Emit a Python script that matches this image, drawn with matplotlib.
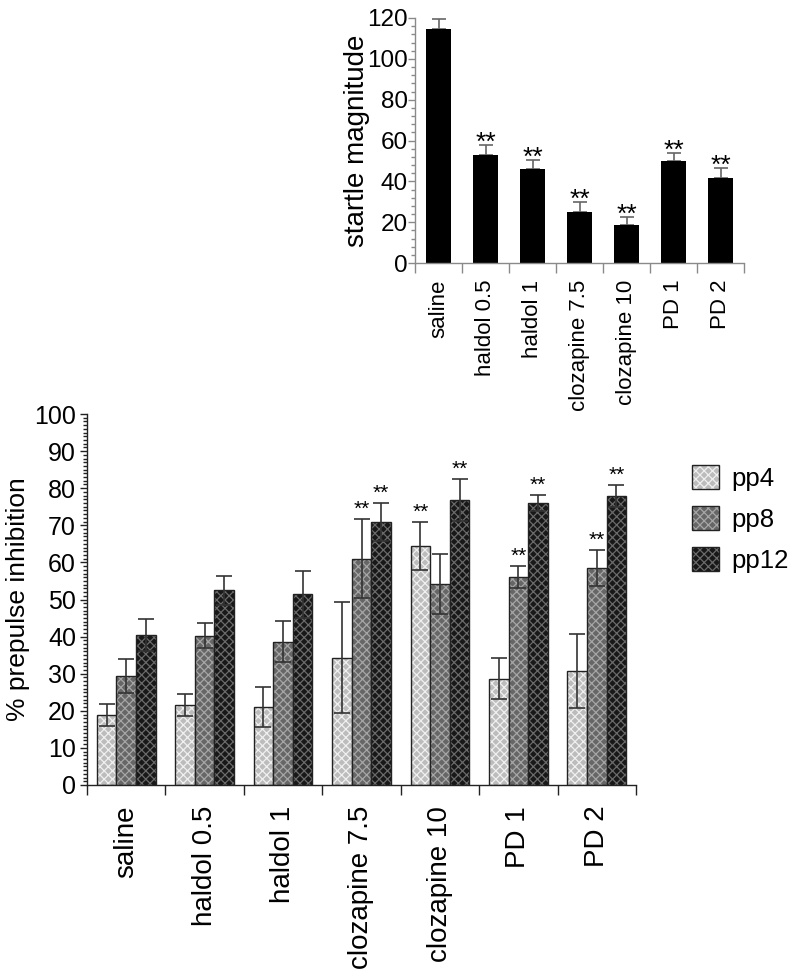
import numpy as np
import matplotlib.pyplot as plt
from matplotlib.patches import Patch
from matplotlib.ticker import MultipleLocator, FixedLocator

plt.rcParams["font.family"] = ["Liberation Sans", "DejaVu Sans"]
plt.rcParams["hatch.linewidth"] = 0.9

groups = ["saline", "haldol 0.5", "haldol 1", "clozapine 7.5", "clozapine 10", "PD 1", "PD 2"]

# top panel: startle magnitude (mean + SEM)
startle = [114.5, 52.7, 45.9, 24.8, 18.4, 50.1, 41.5]
startle_err = [5.0, 5.1, 4.5, 4.9, 4.1, 3.9, 5.2]
startle_sig = ["", "**", "**", "**", "**", "**", "**"]

# bottom panel: % prepulse inhibition
series = ["pp4", "pp8", "pp12"]
pp4 = [18.9, 21.5, 21.0, 34.3, 64.4, 28.7, 30.7]
pp4_err = [3.0, 3.0, 5.3, 14.9, 6.4, 5.5, 9.9]
pp8 = [29.4, 40.2, 38.6, 61.0, 54.2, 56.0, 58.5]
pp8_err = [4.5, 3.4, 5.5, 10.6, 8.0, 3.0, 4.9]
pp12 = [40.4, 52.5, 51.4, 70.9, 76.8, 76.0, 77.9]
pp12_err = [4.3, 3.9, 6.3, 5.1, 5.7, 2.2, 3.0]
pp4_sig = ["", "", "", "", "**", "", ""]
pp8_sig = ["", "", "", "**", "", "**", "**"]
pp12_sig = ["", "", "", "**", "**", "**", "**"]

# face colour, hatch colour
styles = {
    "pp4": ("#bcbcbc", "#f0f0f0"),
    "pp8": ("#666666", "#a6a6a6"),
    "pp12": ("#181818", "#6a6a6a"),
}

x = np.arange(len(groups))
fig = plt.figure(figsize=(8, 9.77), dpi=100)


def style_axis(ax, spine_color):
    ax.spines["top"].set_visible(False)
    ax.spines["right"].set_visible(False)
    for s in ["left", "bottom"]:
        ax.spines[s].set_color(spine_color)
        ax.spines[s].set_linewidth(1.0)
    ax.set_xlim(-0.5, len(groups) - 0.5)
    ax.xaxis.set_major_locator(FixedLocator(x))
    ax.xaxis.set_minor_locator(FixedLocator(np.arange(len(groups) + 1) - 0.5))
    ax.tick_params(axis="x", which="major", length=0)
    ax.tick_params(axis="x", which="minor", length=7, color=spine_color, width=1)
    ax.tick_params(axis="y", which="major", length=5, color=spine_color, width=1)
    ax.tick_params(axis="y", which="minor", length=3, color=spine_color, width=1)


# ---- top chart
ax1 = fig.add_axes([415 / 800, 1 - 263 / 977, 329 / 800, 245 / 977])
ax1.bar(x, startle, 0.53, color="black", zorder=2)
ax1.errorbar(x, startle, yerr=[np.zeros(len(x)), startle_err], fmt="none",
             ecolor="#666666", elinewidth=1.2, capsize=5, capthick=1.2, zorder=1)
for xi, v, e, s in zip(x, startle, startle_err, startle_sig):
    if s:
        ax1.annotate(s, (xi, v + e), xytext=(0, -3.5), textcoords="offset points",
                     ha="center", va="baseline", fontsize=19)
ax1.set_ylim(0, 120)
ax1.yaxis.set_major_locator(MultipleLocator(20))
ax1.yaxis.set_minor_locator(MultipleLocator(4))
style_axis(ax1, "#8a8a8a")
ax1.set_xticklabels(groups, rotation=90, fontsize=16)
ax1.tick_params(axis="x", which="major", pad=12)
ax1.tick_params(axis="y", labelsize=17.5, pad=0)
ax1.set_ylabel("startle magnitude", fontsize=20, labelpad=-2)

# ---- bottom chart
ax2 = fig.add_axes([87 / 800, 1 - 785 / 977, 549 / 800, 371 / 977])
width = 0.25
all_vals = [pp4, pp8, pp12]
all_errs = [pp4_err, pp8_err, pp12_err]
all_sig = [pp4_sig, pp8_sig, pp12_sig]
handles = []
for i, name in enumerate(series):
    pos = x + (i - 1) * width
    face, hatchc = styles[name]
    vals = all_vals[i]
    ax2.bar(pos, vals, width, color=face, edgecolor=hatchc, hatch="xxxx", linewidth=0)
    ax2.bar(pos, vals, width, fill=False, edgecolor="#222222", linewidth=1)
    ax2.errorbar(pos, vals, yerr=all_errs[i], fmt="none", ecolor="#333333",
                 elinewidth=1.2, capsize=6, capthick=1.2)
    for p, v, e, s in zip(pos, vals, all_errs[i], all_sig[i]):
        if s:
            ax2.annotate(s, (p, v + e), xytext=(0, 3), textcoords="offset points",
                         ha="center", va="baseline", fontsize=15)
    handles.append((Patch(facecolor=face, edgecolor=hatchc, hatch="xxxx", linewidth=0),
                    Patch(fill=False, edgecolor="#222222", linewidth=1)))

ax2.set_ylim(0, 100)
ax2.yaxis.set_major_locator(MultipleLocator(10))
ax2.yaxis.set_minor_locator(MultipleLocator(1))
style_axis(ax2, "#222222")
ax2.set_xticklabels(groups, rotation=90, fontsize=20)
ax2.tick_params(axis="x", which="major", pad=15)
ax2.tick_params(axis="y", labelsize=18, pad=3)
ax2.set_ylabel("% prepulse inhibition", fontsize=19, labelpad=3)

fig.legend(handles, series, loc="upper left", bbox_to_anchor=(692 / 800, 1 - 465 / 977),
           frameon=False, fontsize=18.5, handlelength=1.05, handleheight=1.05,
           labelspacing=0.6, handletextpad=0.5, borderpad=0, borderaxespad=0)

fig.savefig("out.png", dpi=100)
